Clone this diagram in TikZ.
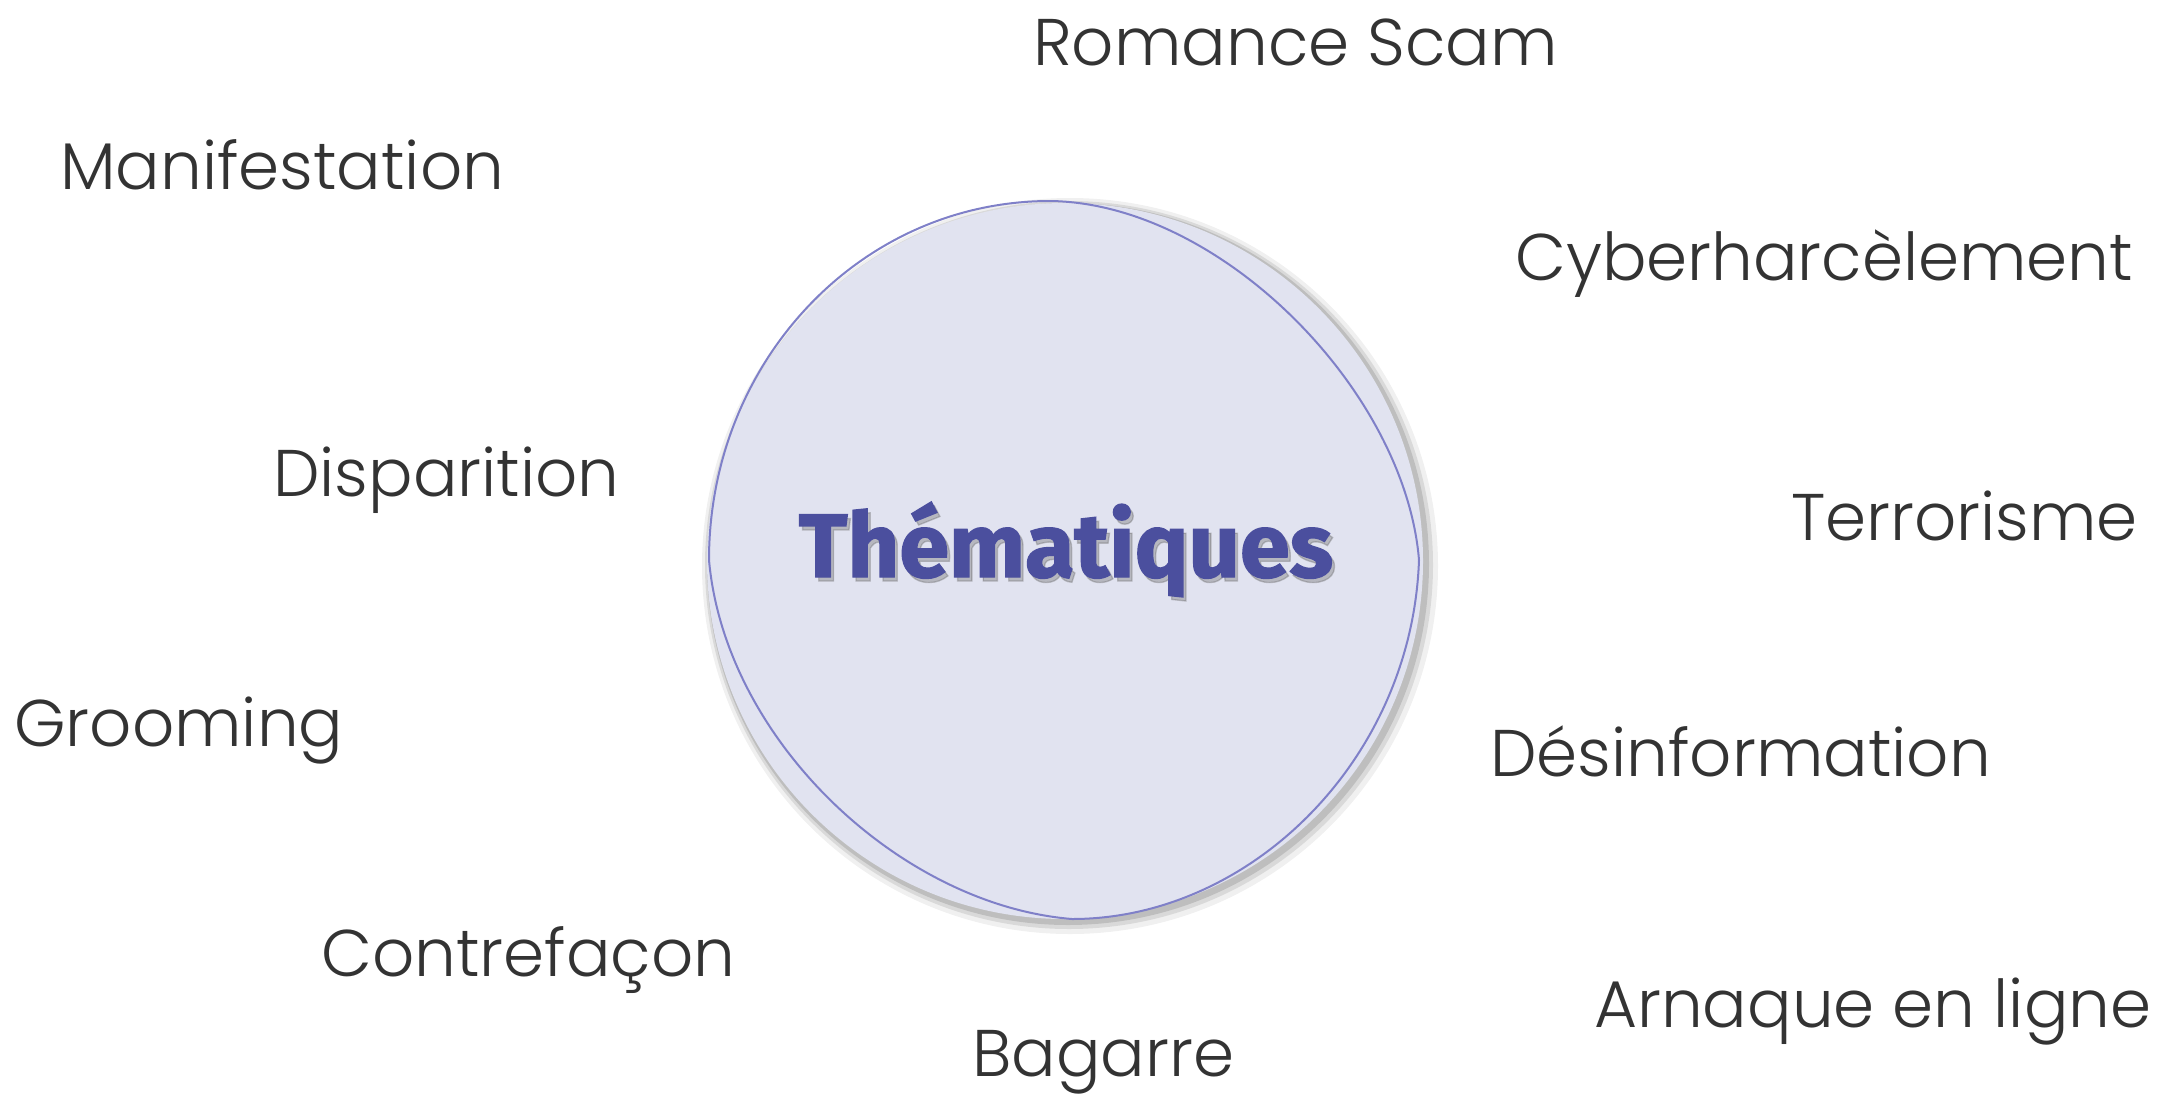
\documentclass[tikz,border=0pt]{standalone}
\usepackage{fontspec}
\newfontfamily\lblfont{Poppins Light}
\newfontfamily\titfont[FakeBold=1.5]{Fira Sans Bold}
\definecolor{txtgray}{HTML}{333333}
\definecolor{lavfill}{HTML}{E1E3F0}
\definecolor{lavline}{HTML}{7F80C8}
\definecolor{titcol}{HTML}{4B4F9E}
\tikzset{
  lbl/.style={anchor=base west, inner sep=0pt, text=txtgray, font=\lblfont\fontsize{66}{76}\selectfont},
  titstyle/.style={anchor=base, inner sep=0pt, font=\titfont\fontsize{90}{100}\selectfont},
}
\begin{document}
\begin{tikzpicture}[x=1pt,y=-1pt]
\useasboundingbox (0,0) rectangle (2177,1096);
% shadow
\fill[black!50, opacity=0.12] (1070,566) circle (368);
\fill[black!50, opacity=0.2] (1069,565) circle (364);
\fill[black!50, opacity=0.3] (1068,564) circle (361);
% fill
\fill[lavfill] (1065,561) circle (358);
% outline
\coordinate (L) at (709,560);
\coordinate (T) at (1050,201);
\coordinate (R) at (1419,560);
\coordinate (B) at (1072,919);
\draw[lavline, line width=2pt, line join=miter]
  (L) .. controls (709,362) and (860,201) .. (T)
  .. controls (1220,203) and (1405,390) .. (R)
  .. controls (1412,760) and (1250,919) .. (B)
  .. controls (900,905) and (725,740) .. (L) -- cycle;
% title
\node[titstyle, text=black!60, opacity=0.35] at (1069,581) {Thématiques};
\node (tit) [titstyle, text=titcol] at (1066,577) {Thématiques};
% labels
\node (romance) [lbl] at (1033,65) {Romance Scam};
\node (manif) [lbl] at (60,189) {Manifestation};
\node (cyber) [lbl] at (1515,280) {Cyberharcèlement};
\node (dispa) [lbl] at (273,496) {Disparition};
\node (terro) [lbl] at (1791,540) {Terrorisme};
\node (groom) [lbl] at (14,746) {Grooming};
\node (desinf) [lbl] at (1490,776) {Désinformation};
\node (contre) [lbl] at (321,976) {Contrefaçon};
\node (arnaque) [lbl] at (1594,1027) {Arnaque en ligne};
\node (bagarre) [lbl] at (972,1076) {Bagarre};
\end{tikzpicture}
\end{document}
